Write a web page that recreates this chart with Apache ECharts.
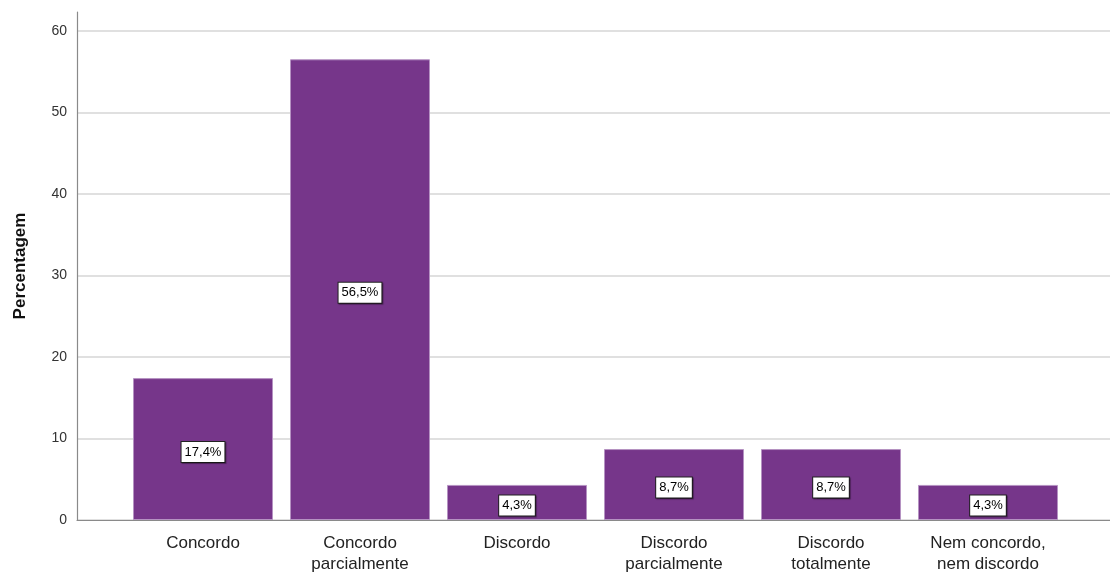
<!DOCTYPE html>
<html>
<head>
<meta charset="utf-8">
<script src="https://cdn.jsdelivr.net/npm/echarts@6/dist/echarts.min.js"></script>
<style>
  html, body { margin: 0; padding: 0; background: #fff; }
  #chart { width: 1110px; height: 577px; }
</style>
</head>
<body>
<div id="chart"></div>
<script>
// Response categories and their percentages
const categories = [
  'Concordo',
  'Concordo\nparcialmente',
  'Discordo',
  'Discordo\nparcialmente',
  'Discordo\ntotalmente',
  'Nem concordo,\nnem discordo'
];
const percentages = [17.4, 56.5, 4.3, 8.7, 8.7, 4.3];
const yTicks = [0, 10, 20, 30, 40, 50, 60];

const FONT = '"Liberation Sans", Arial, sans-serif';
const AXIS_COLOR = '#8a8a8a';
const Y_TOP = 62.3;           // frame extends a little above the last tick
const Y_MAX = yTicks[yTicks.length - 1];

const chart = echarts.init(document.getElementById('chart'), null, { renderer: 'canvas' });

chart.setOption({
  backgroundColor: '#ffffff',
  animation: false,
  grid: [
    // frame: axis lines
    { left: 77, right: 0, top: 12, bottom: 57 },
    // gridlines and tick labels, 0..60
    { left: 77, right: 0, top: 31, bottom: 57 },
    // bars
    { left: 124.5, right: 43.5, top: 12, bottom: 57 }
  ],
  xAxis: [
    {
      gridIndex: 0,
      type: 'category',
      data: [],
      axisLine: { show: true, lineStyle: { color: AXIS_COLOR, width: 1.2 } },
      axisTick: { show: false },
      axisLabel: { show: false }
    },
    {
      gridIndex: 1,
      type: 'category',
      data: [],
      show: false
    },
    {
      gridIndex: 2,
      type: 'category',
      data: categories,
      axisLine: { show: false },
      axisTick: { show: false },
      axisLabel: {
        interval: 0,
        margin: 13,
        fontFamily: FONT,
        fontSize: 17,
        lineHeight: 21,
        color: '#222'
      }
    }
  ],
  yAxis: [
    {
      gridIndex: 0,
      type: 'value',
      min: 0,
      max: Y_TOP,
      name: 'Percentagem',
      nameLocation: 'middle',
      nameGap: 48,
      nameTextStyle: { fontFamily: FONT, fontSize: 17, fontWeight: 'bold', color: '#111' },
      axisLine: { show: true, lineStyle: { color: AXIS_COLOR, width: 1.2 } },
      axisTick: { show: false },
      axisLabel: { show: false },
      splitLine: { show: false }
    },
    {
      gridIndex: 1,
      type: 'value',
      min: 0,
      max: Y_MAX,
      interval: 10,
      axisLine: { show: false },
      axisTick: { show: false },
      axisLabel: {
        margin: 10,
        fontFamily: FONT,
        fontSize: 14,
        color: '#333'
      },
      splitLine: { show: true, lineStyle: { color: '#d6d6d6', width: 1.5 } }
    },
    {
      gridIndex: 2,
      type: 'value',
      min: 0,
      max: Y_TOP,
      show: false,
      splitLine: { show: false }
    }
  ],
  series: [
    {
      type: 'bar',
      xAxisIndex: 2,
      yAxisIndex: 2,
      data: percentages,
      barWidth: 140,
      itemStyle: { color: '#76368a', borderColor: '#b592c2', borderWidth: 1 },
      label: {
        show: true,
        position: 'inside',
        offset: [0, 3],
        formatter: p => p.value.toFixed(1).replace('.', ',') + '%',
        fontFamily: FONT,
        fontSize: 13,
        color: '#000',
        backgroundColor: '#fff',
        borderColor: '#222',
        borderWidth: 1,
        padding: [4, 3, 3, 3],
        shadowColor: 'rgba(0,0,0,0.35)',
        shadowOffsetX: 1,
        shadowOffsetY: 1,
        shadowBlur: 1
      }
    }
  ]
});
</script>
</body>
</html>
